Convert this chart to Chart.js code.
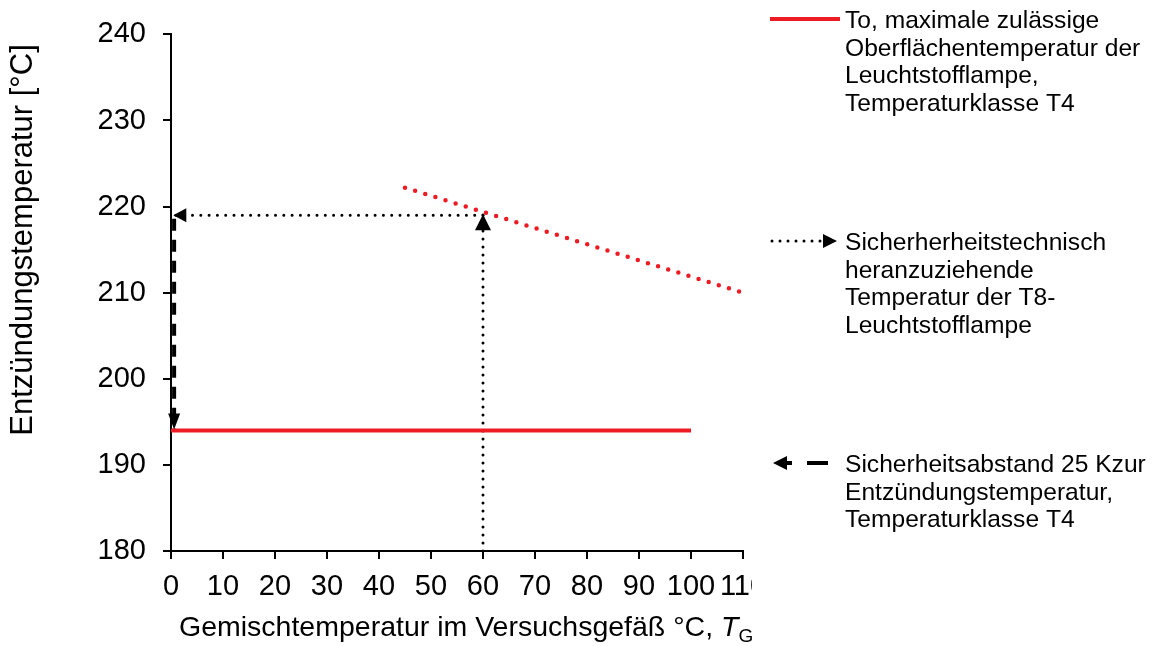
<!DOCTYPE html>
<html>
<head>
<meta charset="utf-8">
<script src="https://cdn.jsdelivr.net/npm/chart.js@4.4.1/dist/chart.umd.min.js"></script>
<style>
  html, body { margin: 0; padding: 0; background: #fff; }
</style>
</head>
<body>
<canvas id="chart" width="1154" height="646"></canvas>
<script>
// axis ranges
const xMin = 0, xMax = 110, xStep = 10;
const yMin = 180, yMax = 240, yStep = 10;

// T4: max. surface temperature of the lamp
const surfaceX = [0, 100];
const surfaceY = [194, 194];
// T8 lamp temperature over mixture temperature
const lampX = [45, 110];
const lampY = [222.2, 210];
// read-off at 60 °C
const riseX = [60, 60];
const riseY = [180, 219.1];
const readX = [60, 0.45];
const readY = [219, 219];
// 25 K safety margin
const marginX = [0.6, 0.6];
const marginY = [218.6, 194.1];

const legendText = [
  ['To, maximale zulässige', 'Oberflächentemperatur der', 'Leuchtstofflampe,', 'Temperaturklasse T4'],
  ['Sicherherheitstechnisch', 'heranzuziehende', 'Temperatur der T8-', 'Leuchtstofflampe'],
  ['Sicherheitsabstand 25 Kzur', 'Entzündungstemperatur,', 'Temperaturklasse T4']
];
const yTitle = 'Entzündungstemperatur [°C]';
const xTitle = 'Gemischtemperatur im Versuchsgefäß °C, ';

const RED = '#ed1c24';
const BLACK = '#000000';
const FONT = "'Liberation Sans', Arial, sans-serif";

const pts = (xs, ys) => xs.map((x, i) => ({ x, y: ys[i] }));

function drawHead(ctx, x, y, angle, len, wid, color) {
  ctx.save();
  ctx.translate(x, y);
  ctx.rotate(angle);
  ctx.beginPath();
  ctx.moveTo(0, 0);
  ctx.lineTo(-len, -wid / 2);
  ctx.lineTo(-len, wid / 2);
  ctx.closePath();
  ctx.fillStyle = color;
  ctx.fill();
  ctx.restore();
}

// arrow heads at the last point of a dataset
const arrowHeads = {
  id: 'arrowHeads',
  afterDatasetsDraw(chart) {
    const ctx = chart.ctx;
    chart.data.datasets.forEach((ds, i) => {
      if (!ds.arrow) return;
      const p = chart.getDatasetMeta(i).data;
      const tip = p[p.length - 1], prev = p[p.length - 2];
      const a = Math.atan2(tip.y - prev.y, tip.x - prev.x);
      drawHead(ctx, tip.x, tip.y, a, ds.arrow[0], ds.arrow[1], ds.borderColor);
    });
  }
};

// axis titles, legend, clipped last tick label
const decorations = {
  id: 'decorations',
  afterDraw(chart) {
    const ctx = chart.ctx;
    const area = chart.chartArea;
    ctx.save();

    // the plot frame cuts the last x label
    ctx.fillStyle = '#fff';
    ctx.fillRect(area.right + 9, area.bottom + 10, 60, 42);

    ctx.fillStyle = BLACK;
    ctx.textBaseline = 'alphabetic';

    // y title
    ctx.save();
    ctx.translate(32, 240);
    ctx.rotate(-Math.PI / 2);
    ctx.textAlign = 'center';
    ctx.font = '31px ' + FONT;
    ctx.fillText(yTitle, 0, 0);
    ctx.restore();

    // x title with italic T and subscript G
    ctx.textAlign = 'left';
    let x = 179;
    const base = 636;
    ctx.font = '28.5px ' + FONT;
    ctx.fillText(xTitle, x, base);
    x += ctx.measureText(xTitle).width;
    ctx.font = 'italic 28.5px ' + FONT;
    ctx.fillText('T', x, base);
    x += ctx.measureText('T').width;
    ctx.font = '19px ' + FONT;
    ctx.fillText('G', x, base + 6);

    // legend
    const lh = 27.7;
    const tx = 845;
    ctx.font = '24.6px ' + FONT;
    const blocks = [19, 241, 463];
    legendText.forEach((lines, k) => {
      lines.forEach((t, j) => ctx.fillText(t, tx, blocks[k] + 8.8 + j * lh));
    });

    ctx.lineCap = 'butt';
    // entry 1: solid red
    let y = blocks[0];
    ctx.strokeStyle = RED;
    ctx.lineWidth = 4;
    ctx.beginPath(); ctx.moveTo(770, y); ctx.lineTo(840, y); ctx.stroke();

    // entry 2: dotted arrow to the right
    y = blocks[1];
    ctx.strokeStyle = BLACK;
    ctx.lineWidth = 3;
    ctx.lineCap = 'round';
    ctx.setLineDash([0, 8]);
    ctx.beginPath(); ctx.moveTo(772, y); ctx.lineTo(822, y); ctx.stroke();
    drawHead(ctx, 837, y, 0, 14, 14, BLACK);

    // entry 3: dashed arrow to the left
    y = blocks[2];
    ctx.lineCap = 'butt';
    ctx.lineWidth = 4;
    ctx.setLineDash([21, 15]);
    ctx.beginPath(); ctx.moveTo(828, y); ctx.lineTo(778, y); ctx.stroke();
    ctx.setLineDash([]);
    drawHead(ctx, 773, y, Math.PI, 14, 14, BLACK);

    ctx.restore();
  }
};

Chart.defaults.font.family = FONT;
Chart.defaults.color = BLACK;

new Chart(document.getElementById('chart'), {
  type: 'scatter',
  data: {
    datasets: [
      {
        label: 'To, maximale zulässige Oberflächentemperatur',
        data: pts(surfaceX, surfaceY),
        borderColor: RED, borderWidth: 4
      },
      {
        label: 'Temperatur der T8-Leuchtstofflampe',
        data: pts(lampX, lampY),
        borderColor: RED, borderWidth: 4.5,
        borderDash: [0, 10.6], borderCapStyle: 'round'
      },
      {
        label: 'Ablesung senkrecht',
        data: pts(riseX, riseY),
        borderColor: BLACK, borderWidth: 3,
        borderDash: [0, 8], borderCapStyle: 'round',
        arrow: [16, 16]
      },
      {
        label: 'Ablesung waagerecht',
        data: pts(readX, readY),
        borderColor: BLACK, borderWidth: 3,
        borderDash: [0, 8.3], borderCapStyle: 'round',
        arrow: [13, 14]
      },
      {
        label: 'Sicherheitsabstand 25 K',
        data: pts(marginX, marginY),
        borderColor: BLACK, borderWidth: 4,
        borderDash: [12, 9],
        arrow: [16, 12]
      }
    ]
  },
  options: {
    responsive: false,
    animation: false,
    events: [],
    showLine: true,
    elements: { point: { radius: 0 } },
    layout: { padding: { top: 30, right: 411, left: 0, bottom: 0 } },
    plugins: { legend: { display: false }, tooltip: { enabled: false } },
    scales: {
      x: {
        type: 'linear', min: xMin, max: xMax,
        afterFit(scale) { scale.height = 95; },
        border: { display: true, color: BLACK, width: 2 },
        grid: { drawOnChartArea: false, drawTicks: true, tickLength: 8, color: BLACK, lineWidth: 2 },
        ticks: { stepSize: xStep, autoSkip: false, maxRotation: 0, padding: 11, font: { size: 29 } }
      },
      y: {
        type: 'linear', min: yMin, max: yMax,
        afterFit(scale) { scale.width = 171; },
        border: { display: true, color: BLACK, width: 2 },
        grid: { drawOnChartArea: false, drawTicks: true, tickLength: 8, color: BLACK, lineWidth: 2 },
        ticks: { stepSize: yStep, padding: 17, font: { size: 29 } }
      }
    }
  },
  plugins: [arrowHeads, decorations]
});
</script>
</body>
</html>
